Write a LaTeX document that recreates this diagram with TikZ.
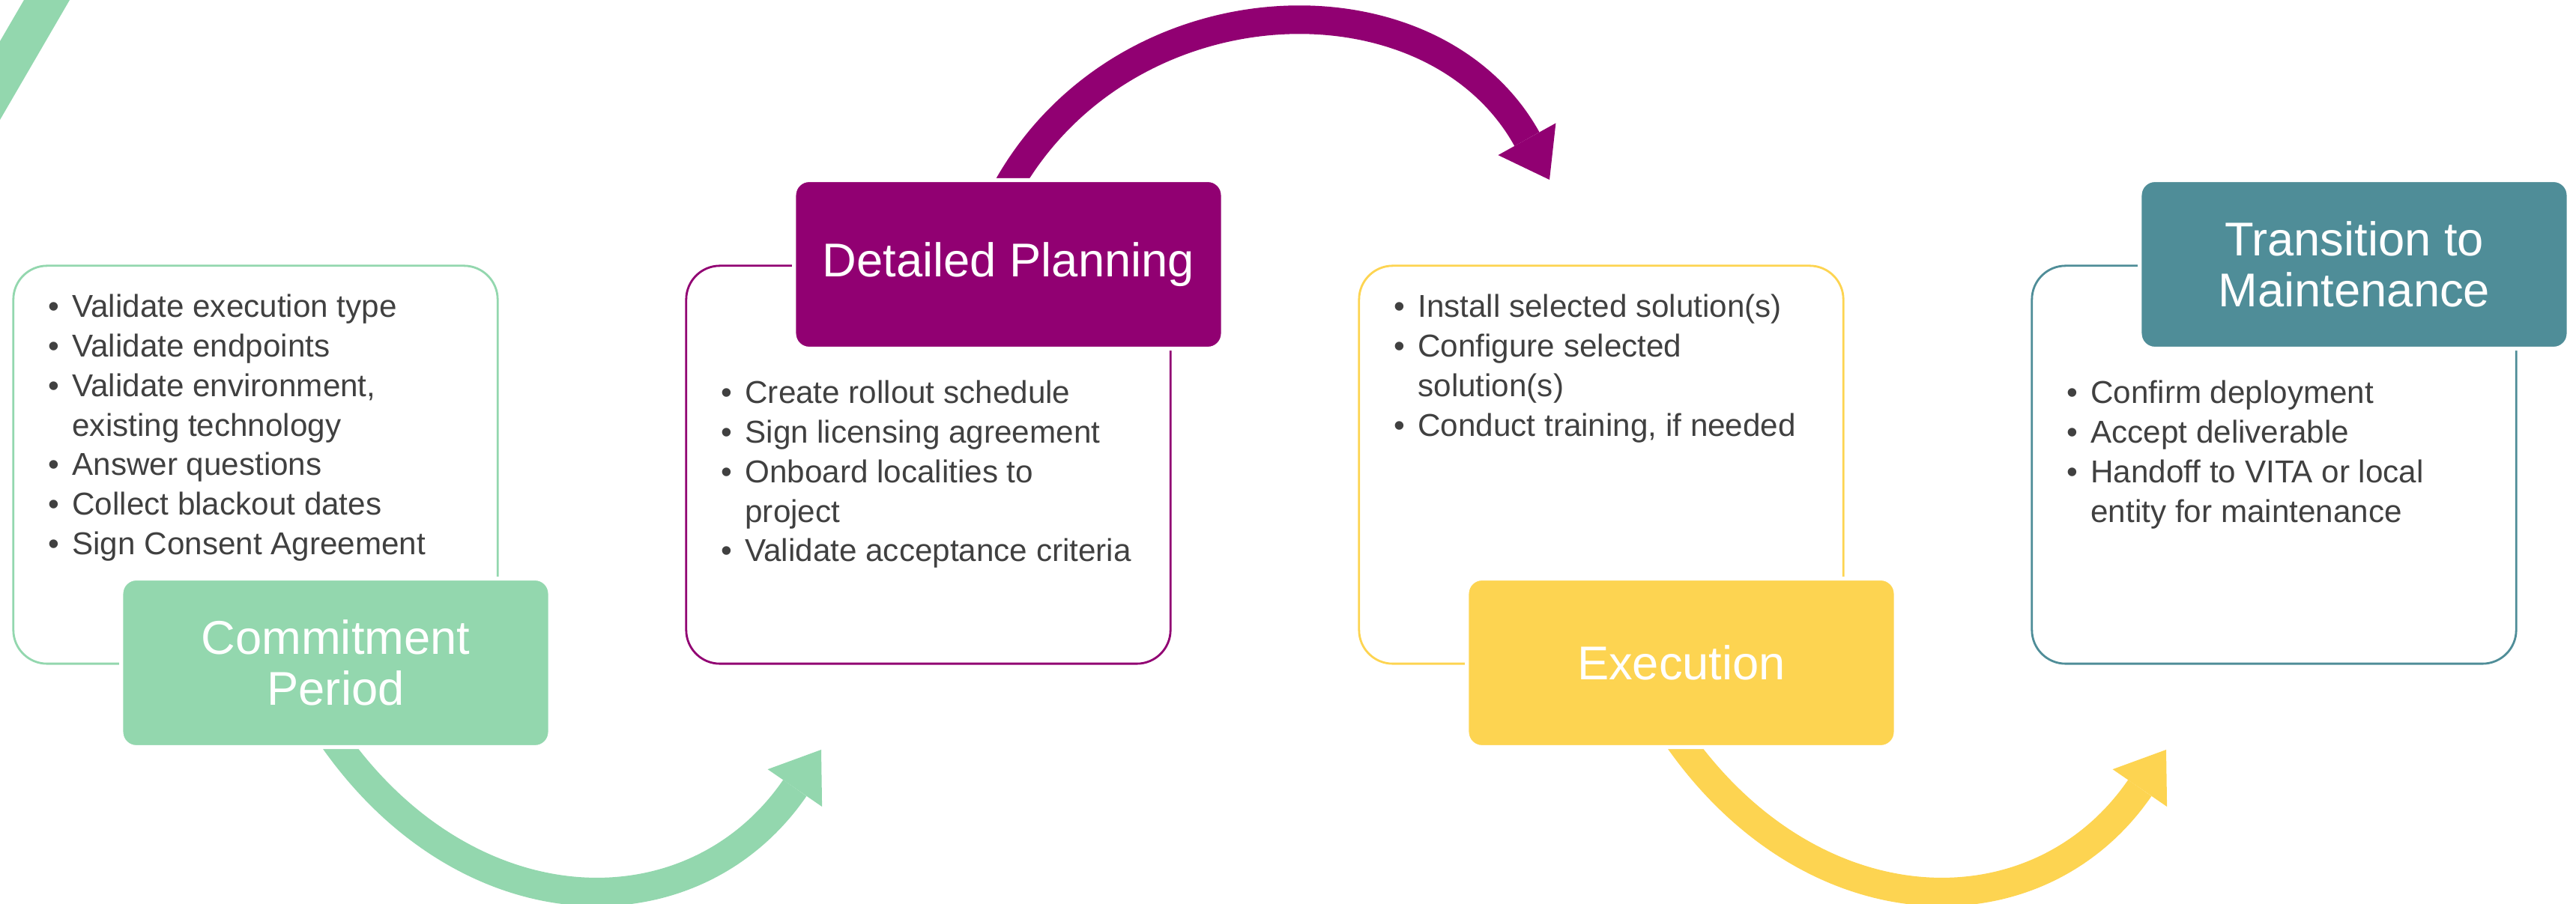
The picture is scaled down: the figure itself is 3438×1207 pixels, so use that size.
\documentclass[tikz,border=0pt]{standalone}
\usepackage{fontspec}
\setmainfont{Liberation Sans}
\usetikzlibrary{arrows.meta}

\definecolor{cgreen}{RGB}{147,215,174}
\definecolor{cpurple}{RGB}{145,0,114}
\definecolor{cyellow}{RGB}{253,212,81}
\definecolor{cteal}{RGB}{79,141,152}
\definecolor{ctext}{RGB}{64,64,64}

\tikzset{
  outline/.style={draw=#1, line width=0.8pt, rounded corners=0.45cm,
    minimum width=6.46cm, minimum height=5.31cm, inner sep=0pt},
  stage/.style={fill=#1, draw=white, line width=1.5pt, rounded corners=0.2cm,
    minimum width=5.72cm, minimum height=2.25cm, inner sep=0pt,
    text=white, align=center, font=\fontsize{18}{19.5}\selectfont},
  bullets/.style={anchor=base west, inner sep=0pt, text=ctext,
    font=\fontsize{12}{15}\selectfont},
  flow/.style={draw=#1, line width=0.38cm,
    -{Triangle[length=0.62cm,width=0.88cm,line width=0pt 0]}}
}
\newcommand{\bul}{\textbullet}

\begin{document}
\begin{tikzpicture}[x=0.01cm,y=-0.01cm]
\useasboundingbox (0,0) rectangle (3438,1207);
% cut-off stripe, top left
\fill[cgreen] (32,0) -- (93,0) -- (0,160) -- (0,55) -- cycle;

% curved arrows
\coordinate (gtail) at (443,984);
\coordinate (ghead) at (1096,1001);
\coordinate (ptail) at (1343,253);
\coordinate (phead) at (2068,240);
\coordinate (ytail) at (2238,984);
\coordinate (yhead) at (2891,1001);
\draw[flow=cgreen] (gtail) .. controls +(180,259) and +(-172,250) .. (ghead);
\draw[flow=cpurple] (ptail) .. controls +(157,-283) and +(-157,-283) .. (phead);
\draw[flow=cyellow] (ytail) .. controls +(180,259) and +(-172,250) .. (yhead);

% outline boxes
\node[outline=cgreen] (commitbox) at (341,620.5) {};
\node[outline=cpurple] (planbox) at (1239,620.5) {};
\node[outline=cyellow] (execbox) at (2137,620.5) {};
\node[outline=cteal] (transbox) at (3035,620.5) {};

% bullet lists
\node[bullets] (commitlist) at (64,424) {\begin{tabular}[t]{@{}l@{\hspace{0.17cm}}l@{}}
\bul & Validate execution type\\
\bul & Validate endpoints\\
\bul & Validate environment,\\
     & existing technology\\
\bul & Answer questions\\
\bul & Collect blackout dates\\
\bul & Sign Consent Agreement
\end{tabular}};
\node[bullets] (planlist) at (962,539) {\begin{tabular}[t]{@{}l@{\hspace{0.17cm}}l@{}}
\bul & Create rollout schedule\\
\bul & Sign licensing agreement\\
\bul & Onboard localities to\\
     & project\\
\bul & Validate acceptance criteria
\end{tabular}};
\node[bullets] (execlist) at (1860,424) {\begin{tabular}[t]{@{}l@{\hspace{0.17cm}}l@{}}
\bul & Install selected solution(s)\\
\bul & Configure selected\\
     & solution(s)\\
\bul & Conduct training, if needed
\end{tabular}};
\node[bullets] (translist) at (2758,539) {\begin{tabular}[t]{@{}l@{\hspace{0.17cm}}l@{}}
\bul & Confirm deployment\\
\bul & Accept deliverable\\
\bul & Handoff to VITA or local\\
     & entity for maintenance
\end{tabular}};

% stage headers
\node[stage=cgreen] (commit) at (448,885) {Commitment\\Period};
\node[stage=cpurple] (plan) at (1346,353) {Detailed Planning};
\node[stage=cyellow] (exec) at (2244,885) {Execution};
\node[stage=cteal] (trans) at (3142,353) {Transition to\\Maintenance};
\end{tikzpicture}
\end{document}
